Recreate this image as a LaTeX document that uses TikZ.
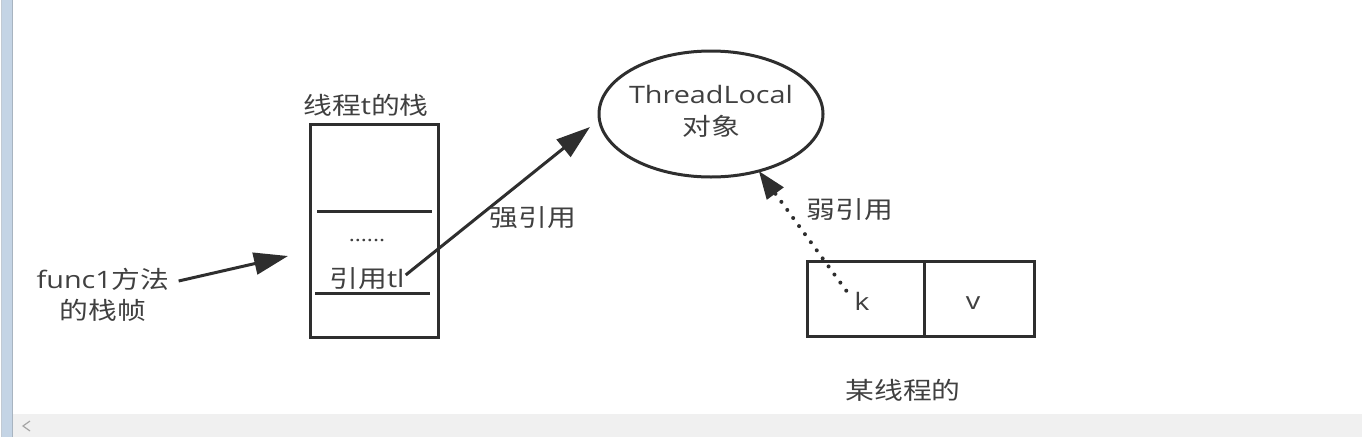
\documentclass[tikz,border=0pt]{standalone}
\usepackage{fontspec}
\setmainfont[FakeStretch=1.2]{Noto Sans CJK SC}
\newfontfamily\lat[FakeStretch=1.2]{Open Sans}
\usetikzlibrary{arrows.meta,shapes.geometric,calc}
\definecolor{ink}{HTML}{2E2E2E}
\definecolor{txtc}{HTML}{404040}
\definecolor{stripc}{HTML}{C4D4E5}
\definecolor{stripedge}{HTML}{A8B4C0}
\definecolor{barc}{HTML}{F0F0F0}
\begin{document}
\begin{tikzpicture}[x=1pt,y=-1pt,
  txt/.style={text=txtc, font=\fontsize{24}{32}\selectfont, inner sep=1pt},
  cell/.style={draw=ink, line width=3pt, minimum width=#1, minimum height=75pt, inner sep=0pt, outer sep=0pt},
  stackbox/.style={draw=ink, line width=3pt, minimum width=128pt, minimum height=213pt, inner sep=0pt, outer sep=0pt},
  obj/.style={ellipse, draw=ink, line width=3pt, minimum width=224pt, minimum height=126pt, inner sep=0pt, outer sep=0pt},
  sep/.style={draw=ink, line width=3pt},
  arr/.style={draw=ink, line width=3pt, -{Triangle[length=34pt,width=22pt]}},
  weak/.style={draw=ink, line width=4pt, dash pattern=on 0pt off 10pt, line cap=round, -{Triangle[length=28pt,width=20pt]}}
]
\useasboundingbox (0,0) rectangle (1362,437);
\fill[white] (0,0) rectangle (1362,437);
% window chrome
\fill[stripc] (2,0) rectangle (12,437);
\draw[stripedge, line width=1pt] (12.5,0) -- (12.5,437);
\draw[stripedge!70, line width=1pt] (1.5,0) -- (1.5,437);
\fill[barc] (13,414) rectangle (1362,437);
\draw[gray!70, line width=1.2pt] (30,421) -- (23,426) -- (30,431);

% stack of thread t
\node[stackbox] (stack) at (374,230.5) {};
\node[txt] (stacklbl) at (366,105) {线程{\lat t}的栈};
\draw[sep] ($(stack.north west)+(7,87)$) -- ($(stack.north east)+(-6,87)$);
\draw[sep] ($(stack.north west)+(5,169)$) -- ($(stack.north east)+(-8,169)$);
\node[txt, font=\fontsize{19}{24}\selectfont\lat] (dots) at (367,241) {......};
\node[txt] (tl) at (367,279) {引用{\lat tl}};

% func1 frame label
\node[txt] (f1a) at (103,279) {{\lat func1}方法};
\node[txt] (f1b) at (103,310) {的栈帧};
\coordinate (ftip) at ($(stack.west)+(-22,25.5)$);
\draw[arr] ([xshift=8pt,yshift=-2pt]f1a.east) -- (ftip);

% ThreadLocal object
\node[obj] (tlobj) at (711,114) {};
\node[txt, align=center] (tltext) at ([yshift=3pt]tlobj.center) {{\lat ThreadLocal}\\对象};

% strong reference
\coordinate (stip) at ($(tlobj.west)+(-9,13)$);
\draw[arr] ($(tl.east)+(0,-4)$) -- (stip);
\node[txt] (stronglbl) at (533,218) {强引用};

% entry k / v
\node[cell=117pt] (kc) at (865.5,298.5) {};
\node[cell=110pt, anchor=west] (vc) at (kc.east) {};
\node[txt] (k) at (862,301) {\lat k};
\node[txt] (v) at (973,303) {\lat v};
\node[txt] (ownlbl) at (903,390) {某线程的};

% weak reference
\draw[weak] ([xshift=-7pt]k.north west) -- (tlobj.310);
\node[txt] (weaklbl) at (850,210) {弱引用};
\end{tikzpicture}
\end{document}
